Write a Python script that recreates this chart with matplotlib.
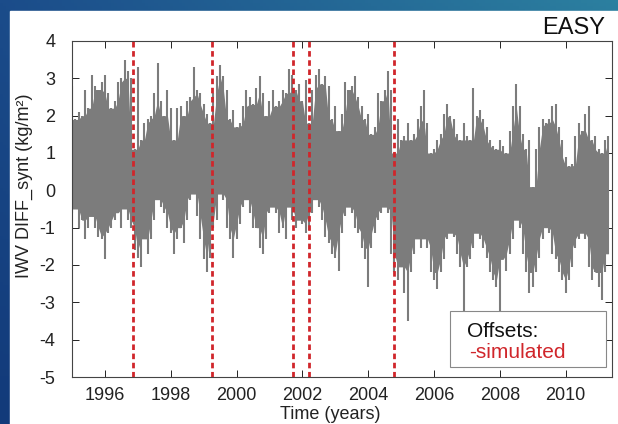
import numpy as np
import matplotlib.pyplot as plt
from matplotlib.patches import Rectangle

plt.rcParams['font.family'] = ['Liberation Sans', 'DejaVu Sans']
plt.rcParams['axes.unicode_minus'] = False

# === Data (0.1-year steps from 1995.0) ===
t_start = 1995.0
t_step = 0.1

# upper envelope of the daily series (kg/m2)
upper = [
    2.8, 1.9, 2.1, 2.0, 2.7, 2.2, 3.1, 2.8, 2.7, 2.9,      # 1995
    3.1, 2.6, 2.2, 2.4, 2.9, 3.0, 3.5, 3.2, 3.0, 1.1,      # 1996
    3.3, 1.35, 1.8, 1.9, 2.0, 2.6, 3.4, 2.4, 2.0, 2.7,     # 1997
    2.2, 1.35, 2.2, 2.25, 2.0, 2.4, 2.5, 3.3, 2.7, 2.6,    # 1998
    2.3, 2.05, 1.8, 2.6, 3.05, 3.35, 3.05, 2.7, 1.9, 2.15, # 1999
    1.7, 1.8, 2.25, 2.7, 2.5, 2.3, 2.75, 3.05, 2.6, 2.0,   # 2000
    2.4, 2.7, 2.25, 2.4, 2.7, 2.6, 3.25, 3.1, 2.7, 2.85,   # 2001
    2.4, 2.95, 1.8, 2.7, 3.1, 3.25, 2.85, 3.05, 2.8, 1.9,  # 2002
    2.25, 1.6, 2.05, 2.9, 2.7, 2.8, 3.05, 2.5, 2.25, 1.9,  # 2003
    2.05, 1.5, 1.7, 2.6, 2.4, 2.7, 3.2, 2.7, 1.0, 1.9,     # 2004
    1.35, 1.45, 1.8, 1.35, 1.5, 1.9, 2.25, 2.7, 1.8, 1.0,  # 2005
    1.1, 1.35, 1.5, 2.05, 2.3, 2.0, 1.9, 1.5, 1.35, 1.8,   # 2006
    1.45, 1.35, 2.75, 2.0, 2.15, 1.9, 1.7, 1.35, 1.2, 1.1, # 2007
    1.35, 1.2, 1.0, 1.6, 2.25, 2.85, 2.25, 1.5, 1.1, 1.35, # 2008
    0.1, 1.1, 1.7, 1.9, 1.8, 1.9, 2.25, 2.3, 1.7, 1.35,    # 2009
    0.9, 0.65, 0.7, 1.45, 1.8, 1.6, 2.05, 2.25, 1.35, 1.45,# 2010
    1.1, 1.0, 1.35, 1.45,                                  # 2011
]

# lower envelope of the daily series (kg/m2)
lower = [
    -0.6, -0.5, -1.0, -0.8, -1.3, -1.0, -0.7, -1.0, -1.25, -1.3,
    -1.85, -1.15, -1.0, -0.8, -0.6, -1.0, -0.5, -0.8, -1.0, -1.6,
    -1.8, -2.05, -1.3, -1.7, -1.3, -0.8, -0.25, -0.45, -0.6, -1.0,
    -1.15, -1.7, -1.3, -1.0, -1.4, -0.8, -0.25, -0.1, -0.7, -1.3,
    -1.85, -2.2, -1.8, -1.0, -0.8, -0.1, -0.25, -1.0, -1.3, -1.8,
    -1.3, -0.9, -0.45, -0.25, -0.6, -1.0, -1.0, -1.55, -1.7, -1.3,
    -0.6, -0.45, -0.6, -1.15, -1.0, -1.3, -0.45, -0.8, -1.0, -0.8,
    -0.9, -1.15, -1.05, -0.6, -0.25, -0.45, -0.8, -1.25, -1.4, -1.7,
    -1.8, -2.15, -1.15, -0.7, -0.45, -0.6, -1.0, -1.15, -1.55, -1.85,
    -2.6, -1.55, -1.15, -0.8, -0.6, -0.45, -0.6, -1.7, -2.2, -2.4,
    -2.05, -2.75, -3.5, -2.2, -1.7, -1.3, -1.55, -1.3, -1.55, -2.2,
    -2.4, -2.65, -2.2, -1.85, -1.3, -1.15, -1.25, -1.7, -2.05, -3.4,
    -2.05, -1.85, -1.55, -1.15, -1.3, -1.55, -1.8, -2.2, -2.4, -2.6,
    -3.3, -1.85, -2.15, -1.7, -1.3, -0.8, -1.0, -1.7, -2.2, -2.75,
    -2.6, -2.2, -1.8, -1.3, -1.0, -1.15, -1.7, -1.85, -2.2, -2.4,
    -2.75, -2.4, -2.05, -1.55, -1.3, -1.15, -1.3, -2.05, -2.4, -2.2,
    -2.6, -2.95, -2.2, -1.7,
]

# simulated offset epochs (years)
offsets = [1996.85, 1999.26, 2001.73, 2002.2, 2004.78]

year_ticks = list(range(1996, 2011, 2))
value_ticks = list(range(-5, 5))

# === Dense body: spikes from the envelopes, core from neighbouring extremes ===
t = t_start + t_step * np.arange(len(upper))
up = np.array(upper)
lo = np.array(lower)
up_pad = np.pad(up, 1, mode='edge')
lo_pad = np.pad(lo, 1, mode='edge')
core_hi = np.minimum(np.minimum(up_pad[:-2], up_pad[1:-1]), up_pad[2:])
core_lo = np.maximum(np.maximum(lo_pad[:-2], lo_pad[1:-1]), lo_pad[2:])

# === Figure with slide-like background ===
W, H = 618, 424
fig = plt.figure(figsize=(W / 100, H / 100), dpi=100)

bg = fig.add_axes([0, 0, 1, 1])
gx = np.linspace(0, 1, 200)[None, :, None]
gy = np.linspace(0, 1, 140)[:, None, None]
c_left = np.array([0x1b, 0x4c, 0x8a]) / 255
c_right = np.array([0x2c, 0x80, 0xa0]) / 255
c_bottom = np.array([0x12, 0x3a, 0x7a]) / 255
img = c_left + (c_right - c_left) * gx
img = img * (1 - gy) + c_bottom * gy
bg.imshow(np.clip(img, 0, 1), aspect='auto', extent=[0, 1, 0, 1])
bg.add_patch(Rectangle((10 / W, 0), 1, 1 - 11 / H, color='white'))
bg.set_xlim(0, 1)
bg.set_ylim(0, 1)
bg.axis('off')

gray = '#7c7c7c'
ax = fig.add_axes([72 / W, 47 / H, 540 / W, 336 / H])
ax.fill_between(t, core_lo, core_hi, color=gray, linewidth=0, zorder=2)
ax.vlines(t, lo, up, color=gray, linewidth=1.5, zorder=2)
for o in offsets:
    ax.axvline(o, color='#d0262b', linewidth=2.0, linestyle=(0, (2, 1.3)), zorder=3)

ax.set_xlim(1995.0, 2011.41)
ax.set_ylim(-5, 4)
ax.set_xticks(year_ticks)
ax.set_yticks(value_ticks)
ax.tick_params(direction='in', length=5, width=0.7, top=True, right=True,
               labelsize=13, colors='#222222')
ax.tick_params(axis='x', pad=7)
ax.tick_params(axis='y', pad=12)
for s in ax.spines.values():
    s.set_linewidth(0.8)
    s.set_color('#444444')

ax.set_xlabel('Time (years)', fontsize=13, color='#222222', va='top')
ax.xaxis.set_label_coords(0.478, -0.085)
ax.set_ylabel('IWV DIFF_synt (kg/m²)', fontsize=13, color='#222222')
ax.yaxis.set_label_coords(-0.072, 0.568)

# legend-like box
ax.add_patch(Rectangle((0.70, 0.030), 0.289, 0.166, transform=ax.transAxes,
                       facecolor='white', edgecolor='#888888', linewidth=0.8, zorder=5))
ax.text(0.731, 0.119, 'Offsets:', transform=ax.transAxes, fontsize=15,
        color='#111111', va='baseline', zorder=6)
ax.text(0.735, 0.057, '-simulated', transform=ax.transAxes, fontsize=15,
        color='#d0262b', va='baseline', zorder=6)

fig.text(605 / W, 1 - 33.5 / H, 'EASY', ha='right', va='baseline', fontsize=17,
         color='#111111')

fig.savefig('out.png', dpi=100)
